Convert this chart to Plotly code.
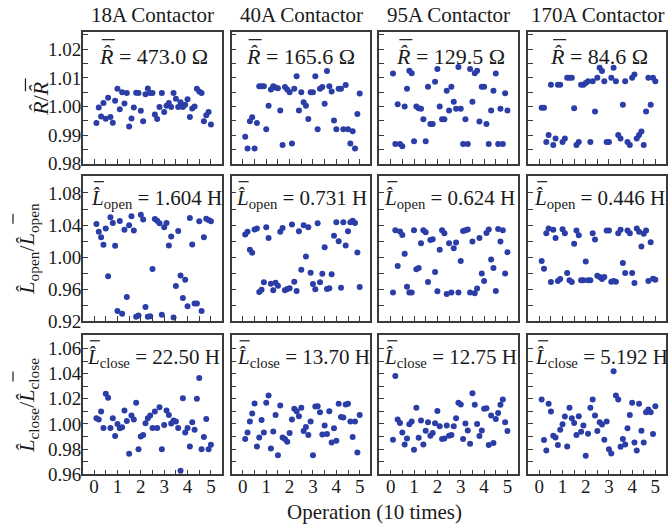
import plotly.graph_objects as go
from plotly.subplots import make_subplots

# ---------------- data ----------------
operations = [0.1, 0.2, 0.3, 0.4, 0.5, 0.6, 0.7, 0.8, 0.9, 1.0,
              1.1, 1.2, 1.3, 1.4, 1.5, 1.6, 1.7, 1.8, 1.9, 2.0,
              2.1, 2.2, 2.3, 2.4, 2.5, 2.6, 2.7, 2.8, 2.9, 3.0,
              3.1, 3.2, 3.3, 3.4, 3.5, 3.6, 3.7, 3.8, 3.9, 4.0,
              4.1, 4.2, 4.3, 4.4, 4.5, 4.6, 4.7, 4.8, 4.9, 5.0]

contactors = ["18A Contactor", "40A Contactor", "95A Contactor", "170A Contactor"]
r_means = ["473.0", "165.6", "129.5", "84.6"]
lopen_means = ["1.604", "0.731", "0.624", "0.446"]
lclose_means = ["22.50", "13.70", "12.75", "5.192"]

# normalised resistance R/R_mean
r_18a = [0.9942, 0.9996, 0.9965, 1.0012, 0.9957, 1.0030, 0.9963, 0.9943, 1.0020, 1.0062,
         0.9990, 1.0050, 1.0010, 1.0047, 0.9930, 0.9958, 0.9996, 1.0048, 1.0047, 0.9985,
         0.9948, 1.0043, 1.0063, 1.0047, 1.0047, 0.9972, 0.9956, 0.9998, 1.0047, 0.9981,
         1.0002, 1.0012, 0.9998, 1.0047, 1.0027, 0.9998, 1.0015, 0.9998, 1.0006, 1.0025,
         0.9963, 0.9993, 1.0000, 1.0062, 1.0052, 1.0047, 0.9948, 0.9969, 0.9981, 0.9937]
r_40a = [0.9894, 0.9853, 0.9948, 0.9962, 0.9853, 0.9942, 1.0071, 1.0071, 1.0071, 0.9920,
         1.0002, 1.0059, 1.0071, 1.0066, 1.0064, 0.9986, 0.9865, 1.0068, 1.0059, 1.0050,
         0.9870, 1.0062, 1.0106, 0.9986, 1.0050, 1.0015, 1.0002, 0.9956, 1.0050, 1.0050,
         1.0106, 0.9920, 1.0062, 1.0068, 1.0009, 1.0124, 1.0071, 1.0052, 0.9951, 0.9920,
         1.0062, 1.0062, 0.9920, 1.0075, 0.9920, 0.9870, 0.9913, 0.9853, 0.9974, 1.0045]
r_95a = [1.0115, 0.9869, 1.0008, 0.9869, 0.9861, 1.0000, 1.0062, 1.0125, 1.0116, 0.9878,
         1.0000, 0.9994, 0.9992, 0.9955, 0.9878, 1.0069, 0.9939, 0.9939, 1.0086, 1.0131,
         1.0000, 0.9955, 0.9955, 1.0055, 0.9986, 1.0069, 1.0016, 0.9992, 1.0138, 0.9992,
         0.9869, 0.9955, 0.9869, 1.0131, 1.0016, 1.0116, 1.0125, 0.9947, 1.0069, 1.0069,
         0.9939, 0.9869, 0.9986, 1.0055, 1.0115, 0.9869, 0.9992, 0.9869, 1.0046, 0.9986]
r_170a = [0.9995, 0.9995, 0.9876, 0.9900, 1.0076, 0.9865, 0.9888, 1.0076, 1.0076, 0.9876,
          0.9888, 1.0100, 1.0100, 1.0100, 0.9994, 0.9865, 0.9876, 1.0076, 1.0076, 1.0082,
          1.0088, 0.9876, 1.0088, 0.9982, 1.0100, 1.0135, 1.0124, 1.0088, 0.9876, 0.9876,
          1.0100, 1.0135, 1.0088, 0.9900, 0.9888, 1.0006, 1.0088, 0.9876, 0.9865, 1.0100,
          1.0112, 0.9888, 0.9900, 0.9912, 0.9865, 0.9982, 1.0100, 1.0006, 1.0100, 1.0088]

# normalised opening inductance
lo_18a = [1.0414, 1.0315, 1.0248, 1.0153, 1.0356, 0.9760, 1.0497, 1.0426, 1.0141, 0.9329,
          1.0451, 0.9292, 1.0340, 0.9503, 1.0398, 1.0509, 1.0331, 0.9255, 0.9271, 1.0530,
          1.0468, 0.9379, 0.9255, 0.9263, 0.9851, 1.0476, 1.0455, 1.0422, 0.9280, 1.0373,
          1.0426, 1.0145, 1.0257, 0.9246, 0.9640, 1.0327, 0.9772, 0.9491, 0.9718, 0.9387,
          1.0489, 1.0157, 0.9420, 0.9420, 1.0447, 0.9329, 1.0248, 1.0480, 1.0464, 1.0447]
lo_40a = [1.0282, 1.0315, 1.0091, 1.0054, 1.0344, 1.0356, 0.9565, 0.9594, 0.9685, 1.0373,
          1.0240, 0.9669, 0.9586, 0.9681, 0.9644, 1.0315, 1.0364, 0.9586, 0.9602, 0.9611,
          1.0406, 0.9694, 0.9578, 1.0323, 0.9843, 1.0398, 1.0008, 1.0373, 0.9805, 0.9665,
          0.9598, 1.0422, 0.9685, 0.9793, 1.0124, 0.9602, 0.9611, 0.9785, 1.0265, 1.0435,
          1.0199, 0.9619, 1.0435, 1.0145, 1.0323, 1.0435, 1.0455, 1.0426, 1.0058, 0.9627]
lo_95a = [0.9557, 1.0335, 0.9888, 1.0319, 1.0277, 1.0041, 0.9631, 0.9557, 0.9557, 1.0335,
          0.9847, 0.9863, 1.0174, 1.0335, 1.0311, 0.9689, 1.0215, 1.0224, 0.9814, 0.9573,
          1.0091, 1.0335, 1.0298, 0.9540, 1.0174, 0.9557, 1.0112, 1.0182, 0.9557, 0.9950,
          1.0327, 1.0335, 1.0344, 0.9557, 1.0195, 0.9549, 0.9607, 1.0240, 0.9797, 0.9702,
          1.0302, 1.0344, 0.9971, 0.9863, 0.9578, 1.0352, 1.0195, 1.0335, 0.9797, 1.0062]
lo_170a = [0.9950, 0.9855, 1.0298, 1.0356, 0.9689, 1.0340, 1.0240, 0.9702, 0.9727, 1.0348,
           1.0298, 0.9801, 0.9710, 0.9689, 1.0166, 1.0331, 1.0273, 0.9710, 0.9710, 0.9946,
           0.9710, 0.9710, 1.0298, 1.0219, 0.9768, 0.9752, 0.9727, 0.9752, 1.0331, 1.0331,
           0.9694, 0.9702, 0.9694, 1.0298, 1.0340, 0.9925, 0.9801, 1.0331, 1.0298, 0.9801,
           0.9677, 1.0356, 1.0315, 1.0133, 1.0290, 1.0331, 0.9702, 1.0186, 0.9731, 0.9718]

# normalised closing inductance
lc_18a = [1.0045, 1.0035, 1.0099, 0.9968, 1.0240, 1.0208, 0.9968, 1.0045, 0.9904, 1.0000,
          0.9965, 0.9973, 1.0107, 1.0024, 0.9763, 1.0067, 1.0035, 1.0168, 0.9800, 0.9901,
          0.9912, 1.0005, 1.0045, 1.0067, 0.9968, 1.0099, 0.9968, 1.0133, 0.9800, 0.9992,
          1.0107, 1.0072, 1.0003, 1.0027, 1.0019, 0.9968, 0.9629, 1.0205, 0.9933, 0.9968,
          0.9821, 1.0013, 0.9955, 1.0200, 1.0365, 0.9800, 0.9896, 1.0040, 0.9800, 0.9835]
lc_40a = [0.9880, 0.9933, 1.0019, 1.0083, 1.0163, 0.9821, 0.9893, 1.0032, 0.9933, 1.0168,
          1.0227, 0.9805, 0.9941, 1.0072, 0.9752, 1.0147, 0.9893, 0.9880, 0.9859, 0.9928,
          1.0035, 1.0120, 1.0101, 1.0061, 1.0128, 0.9944, 0.9976, 0.9912, 1.0019, 0.9752,
          1.0139, 1.0141, 1.0093, 0.9917, 0.9987, 0.9920, 1.0101, 0.9853, 0.9965, 0.9867,
          1.0160, 1.0056, 1.0051, 1.0155, 1.0160, 1.0019, 0.9896, 1.0019, 0.9773, 1.0072]
lc_95a = [0.9875, 1.0381, 1.0035, 1.0008, 0.9933, 0.9837, 0.9885, 0.9997, 1.0019, 0.9795,
          1.0128, 0.9891, 1.0027, 0.9837, 0.9947, 1.0013, 0.9907, 0.9928, 1.0005, 1.0104,
          0.9981, 0.9880, 0.9885, 0.9987, 0.9907, 0.9912, 0.9981, 1.0045, 1.0168, 1.0155,
          0.9880, 1.0003, 0.9949, 0.9843, 1.0245, 1.0152, 1.0000, 0.9904, 0.9949, 1.0120,
          1.0125, 0.9832, 1.0067, 0.9848, 1.0040, 1.0088, 1.0152, 1.0195, 1.0013, 0.9944]
lc_170a = [1.0195, 0.9872, 0.9789, 1.0160, 1.0099, 0.9907, 0.9893, 0.9832, 0.9955, 0.9997,
           1.0059, 0.9821, 1.0128, 1.0045, 1.0008, 0.9912, 1.0061, 0.9939, 0.9987, 0.9747,
           0.9923, 1.0128, 1.0195, 1.0067, 0.9944, 1.0013, 0.9995, 0.9875, 1.0019, 0.9800,
           0.9765, 1.0419, 1.0227, 1.0195, 0.9819, 0.9880, 0.9837, 0.9965, 1.0072, 1.0168,
           0.9853, 0.9789, 1.0160, 0.9947, 0.9853, 1.0093, 1.0115, 1.0093, 0.9920, 1.0141]

rows_data = [
    [r_18a, r_40a, r_95a, r_170a],
    [lo_18a, lo_40a, lo_95a, lo_170a],
    [lc_18a, lc_40a, lc_95a, lc_170a],
]

x_ticks = [0, 1, 2, 3, 4, 5]
y_ranges = [[0.98, 1.026], [0.92, 1.101], [0.96, 1.0705]]
y_dticks = [0.01, 0.04, 0.02]
y_minor = [0.005, 0.02, 0.01]
y_tick0 = [0.98, 0.92, 0.96]

# ---------------- style / layout (pixel positions of the 668x525 picture) ----------------
REF_W, REF_H = 668, 525
W, H = 668, 538          # page height that is shown squeezed into the 525-px picture
FONT = "Liberation Serif, Times New Roman, serif"
TXT = "#1a1a1a"
LINE = "#3a3a3a"
DOT = "#2B3DA6"
col_left = [83, 232, 380, 529]
col_w = 139
row_top = [32, 175.5, 334]
row_bot = [163, 320, 472.5]


def px(x):
    return x / REF_W


def py(y):
    return 1 - y / REF_H


HAT = "\u0302"

fig = make_subplots(rows=3, cols=4)

for r in range(3):
    for c in range(4):
        vals = rows_data[r][c]
        fig.add_trace(go.Scatter(
            x=operations[:len(vals)], y=vals, mode="markers",
            marker=dict(color=DOT, size=6),
            showlegend=False, hoverinfo="x+y"), row=r + 1, col=c + 1)
        x0 = px(col_left[c])
        x1 = min(px(col_left[c] + col_w), (W - 1) / W)
        fig.update_xaxes(
            domain=[x0, x1], range=[-0.48, 5.46],
            tickmode="array", tickvals=x_ticks,
            ticks="inside", ticklen=5, tickwidth=1, tickcolor=LINE,
            minor=dict(dtick=0.5, tick0=0, ticks="inside", ticklen=5, tickcolor=LINE, tickwidth=1),
            showticklabels=(r == 2), ticklabelstandoff=-6,
            tickfont=dict(family=FONT, size=19, color=TXT),
            showline=True, linecolor=LINE, linewidth=1.5, mirror=True,
            showgrid=False, zeroline=False,
            row=r + 1, col=c + 1)
        fig.update_yaxes(
            domain=[py(row_bot[r]), py(row_top[r])],
            range=y_ranges[r], tick0=y_tick0[r], dtick=y_dticks[r],
            tickformat=".2f",
            ticks="inside", ticklen=5, tickwidth=1, tickcolor=LINE,
            minor=dict(dtick=y_minor[r], tick0=y_tick0[r], ticks="inside", ticklen=5,
                       tickcolor=LINE, tickwidth=1),
            showticklabels=(c == 0), ticklabelstandoff=-4,
            tickfont=dict(family=FONT, size=19, color=TXT),
            showline=True, linecolor=LINE, linewidth=1.5, mirror=True,
            showgrid=False, zeroline=False,
            row=r + 1, col=c + 1)

annotations = []
shapes = []
# column titles
for c in range(4):
    annotations.append(dict(
        x=px(col_left[c] + col_w / 2), y=py(15), xref="paper", yref="paper",
        text=contactors[c], showarrow=False, xanchor="center", yanchor="middle",
        font=dict(family=FONT, size=21, color=TXT)))

# in-panel mean labels (left edge of the symbol, measured per panel)
panel_texts = [
    ["<i>R" + HAT + "</i> = " + v + " \u03a9" for v in r_means],
    ["<i>L" + HAT + "</i><sub>open</sub> = " + v + " H" for v in lopen_means],
    ["<i>L" + HAT + "</i><sub>close</sub> = " + v + " H" for v in lclose_means],
]
label_left = [[97, 244, 395, 549],
              [89, 234, 383, 533],
              [85, 235, 383, 534]]
label_y = [56.5, 198, 357]
label_size = [22, 21, 21]
bar_y = [39.5, 181, 339.5]
bar_len = [13, 10, 10]
bar_dx = [5, 5, 5]
for r in range(3):
    for c in range(4):
        annotations.append(dict(
            x=px(label_left[r][c]), y=py(label_y[r]),
            xref="paper", yref="paper", text=panel_texts[r][c], showarrow=False,
            xanchor="left", yanchor="middle",
            font=dict(family=FONT, size=label_size[r], color=TXT)))
        bx = label_left[r][c] + bar_dx[r]
        shapes.append(dict(
            type="line", xref="paper", yref="paper",
            x0=px(bx), x1=px(bx + bar_len[r]), y0=py(bar_y[r]), y1=py(bar_y[r]),
            line=dict(color=TXT, width=1.2)))

# y-axis titles (rotated); overbar of the mean symbol drawn as a short stroke
y_titles = [
    "<i>R" + HAT + "</i>/<i>R" + HAT + "</i>",
    "<i>L" + HAT + "</i><sub>open</sub>/<i>L" + HAT + "</i><sub>open</sub>",
    "<i>L" + HAT + "</i><sub>close</sub>/<i>L" + HAT + "</i><sub>close</sub>",
]
y_title_x = [41, 28, 28]
ybar_x = [25.5, 13, 13]
ybar_y = [[78, 91], [213, 223], [370, 380]]
for r in range(3):
    annotations.append(dict(
        x=px(y_title_x[r]), y=py((row_top[r] + row_bot[r]) / 2), xref="paper", yref="paper",
        text=y_titles[r], showarrow=False, textangle=-90,
        xanchor="center", yanchor="middle",
        font=dict(family=FONT, size=22, color=TXT)))
    shapes.append(dict(
        type="line", xref="paper", yref="paper",
        x0=px(ybar_x[r]), x1=px(ybar_x[r]), y0=py(ybar_y[r][0]), y1=py(ybar_y[r][1]),
        line=dict(color=TXT, width=1.2)))

# x-axis title
annotations.append(dict(
    x=px((col_left[0] + col_left[3] + col_w) / 2), y=py(510),
    xref="paper", yref="paper", text="Operation (10 times)", showarrow=False,
    xanchor="center", yanchor="middle", font=dict(family=FONT, size=21, color=TXT)))

fig.update_layout(
    width=W, height=H, margin=dict(l=0, r=0, t=0, b=0),
    paper_bgcolor="white", plot_bgcolor="white",
    font=dict(family=FONT, color=TXT),
    annotations=annotations, shapes=shapes, showlegend=False)

fig.write_html(
    "out.html",
    config={"displayModeBar": False},
    post_script="document.body.style.margin='0';document.body.style.overflow='hidden';")
